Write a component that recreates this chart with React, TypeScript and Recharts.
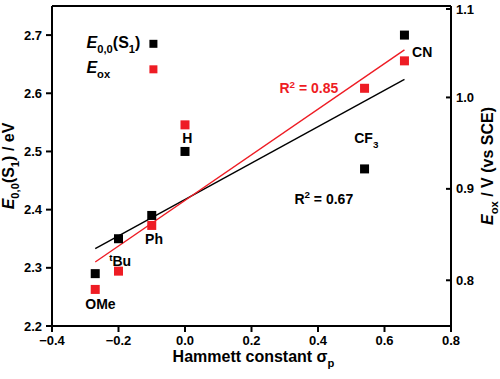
import React from "react";
import { ComposedChart, Scatter, XAxis, YAxis, ReferenceLine, ReferenceDot } from "recharts";

// Hammett constants and the two measured quantities
const sigmaP = [-0.27, -0.2, -0.1, 0, 0.54, 0.66];
const e00 = [2.29, 2.35, 2.39, 2.5, 2.47, 2.7];
const eox = [0.79, 0.81, 0.86, 0.97, 1.01, 1.04];

// linear fit end points
const fitX = [-0.27, 0.66];
const fitE00 = [2.333, 2.624];
const fitEox = [0.82, 1.052];

const xTicks = [-0.4, -0.2, 0, 0.2, 0.4, 0.6, 0.8];
const leftTicks = [2.2, 2.3, 2.4, 2.5, 2.6, 2.7];
const rightTicks = [0.8, 0.9, 1.0, 1.1];

type Part = { t: string; sub?: boolean; sup?: boolean; it?: boolean };

const substituents: { x: number; y: number; parts: Part[]; red?: boolean }[] = [
  { x: -0.3, y: 2.229, parts: [{ t: "OMe" }] },
  { x: -0.228, y: 2.303, parts: [{ t: "t", sup: true }, { t: "Bu" }] },
  { x: -0.12, y: 2.341, parts: [{ t: "Ph" }] },
  { x: -0.008, y: 2.514, parts: [{ t: "H" }] },
  { x: 0.509, y: 2.514, parts: [{ t: "CF" }, { t: "3", sub: true }] },
  { x: 0.683, y: 2.662, parts: [{ t: "CN" }] },
  { x: 0.284, y: 2.6, parts: [{ t: "R" }, { t: "2", sup: true }, { t: " = 0.85" }], red: true },
  { x: 0.329, y: 2.41, parts: [{ t: "R" }, { t: "2", sup: true }, { t: " = 0.67" }] },
];

const RED = "#ee1c24";
const FONT = "'Liberation Sans', Arial, sans-serif";

const pts = (xs: number[], ys: number[]) => xs.map((x, i) => ({ x, y: ys[i] }));
const fmt = (v: number) => v.toFixed(1).replace("-", "\u2212");

function rich(parts: Part[], size: number) {
  let shift = 0;
  return parts.map((p, i) => {
    const target = p.sub ? size * 0.3 : p.sup ? -size * 0.38 : 0;
    const dy = target - shift;
    shift = target;
    return (
      <tspan key={i} dy={dy} fontSize={p.sub || p.sup ? size * 0.7 : size} fontStyle={p.it ? "italic" : undefined}>
        {p.t}
      </tspan>
    );
  });
}

const square = (color: string) => (props: any) =>
  <rect x={props.cx - 4.5} y={props.cy - 4.5} width={9} height={9} fill={color} />;

const nothing = () => <g />;

const RightTick = ({ x, y, payload }: any) => (
  <g>
    <line x1={x - 5} x2={x - 10} y1={y} y2={y} stroke="#000" strokeWidth={2} />
    <text x={x} y={y} dy={4.5} textAnchor="start" fill="#000" fontSize={13} fontWeight="bold" fontFamily={FONT}>
      {fmt(payload.value)}
    </text>
  </g>
);

const leftTitle = ({ viewBox }: any) => {
  const cx = viewBox.x + 14;
  const cy = viewBox.y + viewBox.height / 2;
  return (
    <text x={cx} y={cy} transform={`rotate(-90 ${cx} ${cy})`} textAnchor="middle" fontWeight="bold" fontFamily={FONT} fill="#000">
      {rich([{ t: "E", it: true }, { t: "0,0", sub: true }, { t: "(S" }, { t: "1", sub: true }, { t: ") / eV" }], 16)}
    </text>
  );
};

const rightTitle = ({ viewBox }: any) => {
  const cx = viewBox.x + 42;
  const cy = viewBox.y + viewBox.height / 2;
  return (
    <text x={cx} y={cy} transform={`rotate(-90 ${cx} ${cy})`} textAnchor="middle" fontWeight="bold" fontFamily={FONT} fill="#000">
      {rich([{ t: "E", it: true }, { t: "ox", sub: true }, { t: " / V (vs SCE)" }], 16)}
    </text>
  );
};

const bottomTitle = ({ viewBox }: any) => (
  <text x={viewBox.x + viewBox.width / 2 + 2} y={viewBox.y + 36} textAnchor="middle" fontWeight="bold" fontFamily={FONT} fill="#000">
    {rich([{ t: "Hammett constant \u03c3" }, { t: "p", sub: true }], 16)}
  </text>
);

const legendShape = (props: any) => {
  const { cx, cy } = props;
  return (
    <g fontFamily={FONT} fontWeight="bold" fill="#000">
      <rect x={cx - 4} y={cy - 4} width={8} height={8} fill="#000" />
      <rect x={cx - 4} y={cy + 21.5} width={8} height={8} fill={RED} />
      <text x={cx - 13} y={cy + 4.5} textAnchor="end">
        {rich([{ t: "E", it: true }, { t: "0,0", sub: true }, { t: "(S" }, { t: "1", sub: true }, { t: ")" }], 16)}
      </text>
      <text x={cx - 67} y={cy + 29} textAnchor="start">
        {rich([{ t: "E", it: true }, { t: "ox", sub: true }], 16)}
      </text>
    </g>
  );
};

const annotation = (parts: Part[], color: string) => (props: any) => (
  <text x={props.cx} y={props.cy} fill={color} fontFamily={FONT} fontWeight="bold" textAnchor="start">
    {rich(parts, 14)}
  </text>
);

export default function App() {
  const axisTick = { fill: "#000", fontSize: 13, fontWeight: "bold", fontFamily: FONT };
  const line = { stroke: "#000", strokeWidth: 2 };
  return (
    <div style={{ position: "absolute", left: 0, top: 0, width: 500, height: 379, background: "#fff" }}>
      <ComposedChart width={500} height={379} margin={{ top: 6, right: 0, bottom: 0, left: 0 }}>
        <XAxis
          type="number"
          dataKey="x"
          domain={[-0.4, 0.8]}
          ticks={xTicks}
          tickFormatter={fmt}
          allowDataOverflow
          height={53}
          tick={axisTick}
          axisLine={line}
          tickLine={line}
          tickSize={6}
          tickMargin={4}
          label={bottomTitle}
        />
        <YAxis
          yAxisId="left"
          type="number"
          dataKey="y"
          domain={[2.2, 2.75]}
          ticks={leftTicks}
          tickFormatter={fmt}
          allowDataOverflow
          width={52}
          tick={axisTick}
          axisLine={line}
          tickLine={line}
          tickSize={6}
          tickMargin={4}
          label={leftTitle}
        />
        <YAxis
          yAxisId="right"
          orientation="right"
          type="number"
          dataKey="y"
          domain={[0.75, 1.1]}
          ticks={rightTicks}
          allowDataOverflow
          width={49}
          tick={<RightTick />}
          axisLine={line}
          tickLine={false}
          tickSize={5}
          tickMargin={0}
          label={rightTitle}
        />
        <ReferenceLine yAxisId="left" y={2.75} stroke="#000" strokeWidth={2} />
        <Scatter
          yAxisId="left"
          data={pts(fitX, fitE00)}
          line={{ stroke: "#000", strokeWidth: 1.4 }}
          lineType="joint"
          shape={nothing}
          isAnimationActive={false}
        />
        <Scatter
          yAxisId="right"
          data={pts(fitX, fitEox)}
          line={{ stroke: RED, strokeWidth: 1.4 }}
          lineType="joint"
          shape={nothing}
          isAnimationActive={false}
        />
        <Scatter yAxisId="left" data={pts(sigmaP, e00)} shape={square("#000")} isAnimationActive={false} />
        <Scatter yAxisId="right" data={pts(sigmaP, eox)} shape={square(RED)} isAnimationActive={false} />
        {substituents.map((s, i) => (
          <ReferenceDot
            key={i}
            yAxisId="left"
            x={s.x}
            y={s.y}
            r={0}
            shape={annotation(s.parts, s.red ? RED : "#000")}
          />
        ))}
        <ReferenceDot yAxisId="left" x={-0.095} y={2.685} r={0} shape={legendShape} />
      </ComposedChart>
    </div>
  );
}
